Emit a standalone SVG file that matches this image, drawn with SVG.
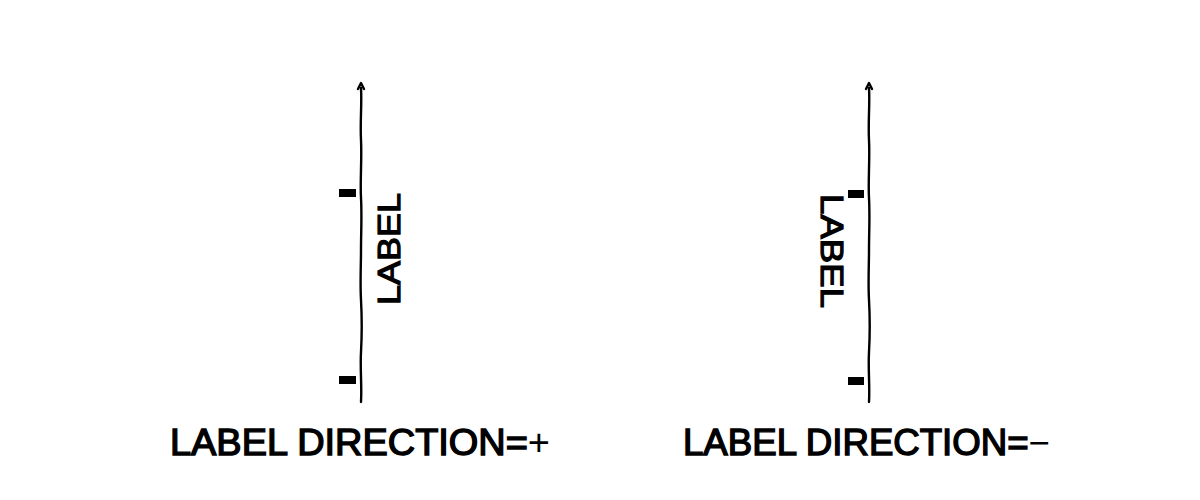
<svg xmlns="http://www.w3.org/2000/svg" width="1200" height="500" viewBox="0 0 1200 500">
<style>
.axis{fill:none;stroke:#000;stroke-width:2.4;stroke-linecap:round;stroke-linejoin:round}
.tick{fill:#000}
.lbl{font-family:"Liberation Sans",Arial,sans-serif;font-size:32px;fill:#000;stroke:#000;stroke-width:1.2}
.title{font-family:"Liberation Sans",Arial,sans-serif;font-size:36px;fill:#000;stroke:#000;stroke-width:1.4}
.sym{stroke-width:0}
</style>
<rect width="1200" height="500" fill="#fff"/>
<g id="connectors">
<path class="axis" d="M361,402 C362,385 360,370 361,352 C362,334 362,318 361,300 C360,282 361,266 361,250 C361,232 362,216 361,198 C360,180 362,160 361,140 C360,122 362,104 361,88"/>
<path class="axis" d="M358,89 L361,83 L364,89"/>
<path class="axis" d="M869,402 C870,385 868,370 869,352 C870,334 870,318 869,300 C868,282 869,266 869,250 C869,232 870,216 869,198 C868,180 870,160 869,140 C868,122 870,104 869,88"/>
<path class="axis" d="M866,89 L869,83 L872,89"/>
</g>
<g id="left-axis">
<rect class="tick" x="339" y="189" width="17" height="8"/>
<rect class="tick" x="339" y="376" width="17" height="8"/>
<text class="lbl" transform="translate(400,249) rotate(-90)" text-anchor="middle" textLength="112" lengthAdjust="spacingAndGlyphs">LABEL</text>
</g>
<g id="right-axis">
<rect class="tick" x="848" y="190" width="16" height="8"/>
<rect class="tick" x="848" y="377" width="16" height="8"/>
<text class="lbl" transform="translate(821,251) rotate(90)" text-anchor="middle" textLength="114" lengthAdjust="spacingAndGlyphs">LABEL</text>
</g>
<g id="captions">
<text class="title" x="170" y="455" textLength="380" lengthAdjust="spacingAndGlyphs">LABEL DIRECTION=<tspan class="sym">+</tspan></text>
<text class="title" x="683" y="455" textLength="367" lengthAdjust="spacingAndGlyphs">LABEL DIRECTION=<tspan class="sym">−</tspan></text>
</g>
</svg>
